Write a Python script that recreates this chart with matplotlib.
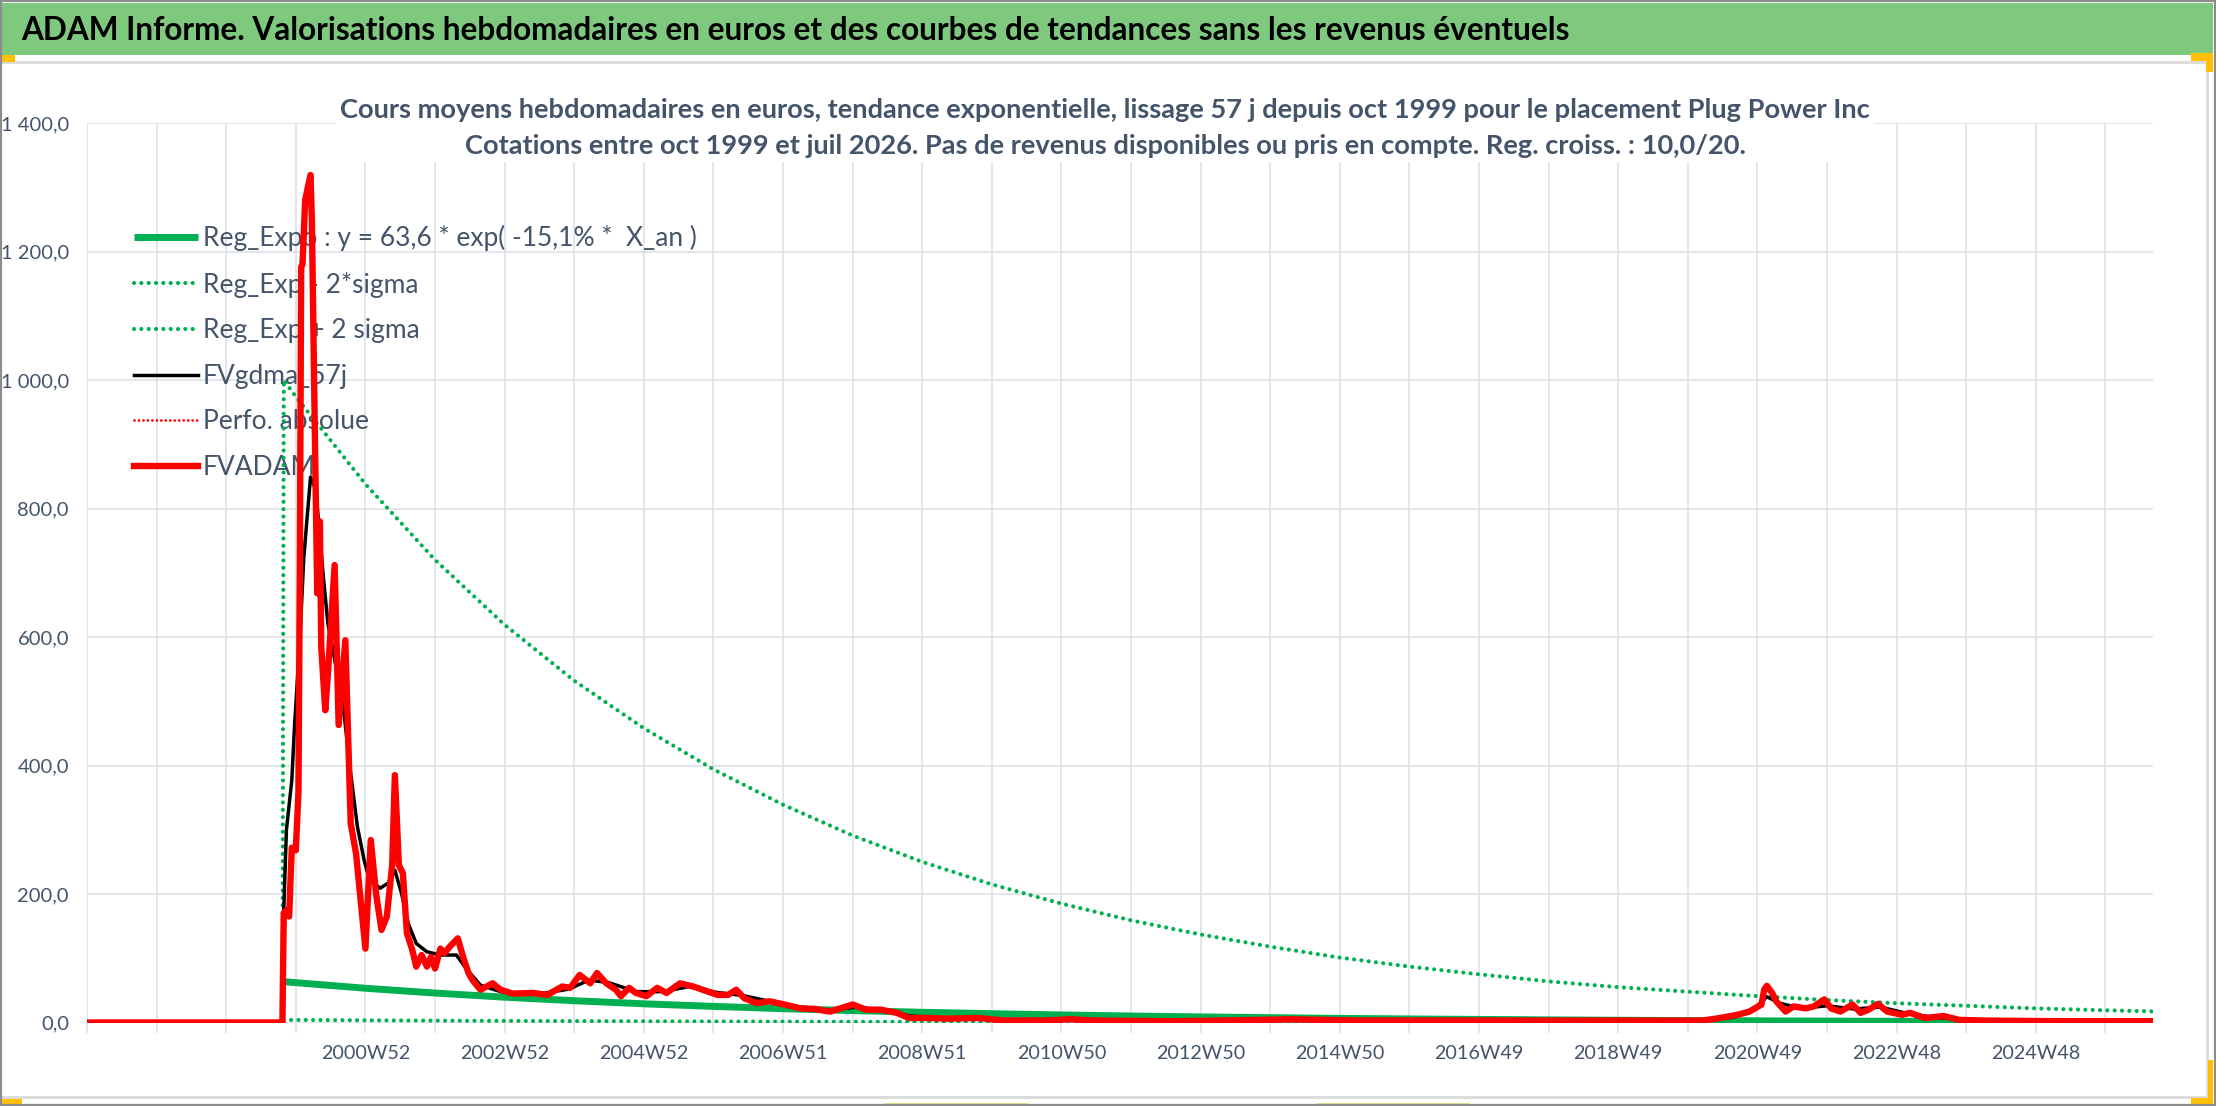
import matplotlib
matplotlib.use('Agg')
import matplotlib.pyplot as plt
from matplotlib.patches import Rectangle

W, H = 2216, 1106
DPI = 100

BANNER = ('ADAM Informe. Valorisations hebdomadaires en euros et des courbes '
          'de tendances sans les revenus éventuels')
SUBTITLE = ('Cours moyens hebdomadaires en euros, tendance exponentielle, lissage 57 j '
            'depuis oct 1999 pour le placement Plug Power Inc\n'
            'Cotations entre oct 1999 et juil 2026. Pas de revenus disponibles ou pris '
            'en compte. Reg. croiss. : 10,0/20.')

# x = week index on the category axis (week 0 = 1996W52, one grid step = 52 weeks)
grid_weeks = list(range(0, 1509, 52))
label_weeks = [208, 312, 416, 520, 624, 728, 832, 936, 1040, 1144, 1248, 1352, 1456]
label_texts = ['2000W52', '2002W52', '2004W52', '2006W51', '2008W51', '2010W50',
               '2012W50', '2014W50', '2016W49', '2018W49', '2020W49', '2022W48',
               '2024W48']
y_ticks = [0, 200, 400, 600, 800, 1000, 1200, 1400]
y_labels = ['0,0', '200,0', '400,0', '600,0', '800,0', '1 000,0', '1 200,0', '1 400,0']

# FVADAM (weekly price)
adam_weeks = [0, 146, 147, 149, 151, 153, 156, 158, 159, 160, 161, 163, 165, 167, 168,
              170, 172, 174, 175, 178, 180, 185, 188, 193, 197, 201, 208, 212, 216, 220,
              224, 228, 230, 233, 236, 239, 243, 246, 250, 254, 257, 260, 264, 267, 271,
              277, 281, 285, 288, 294, 303, 309, 318, 333, 344, 355, 361, 368, 376, 381,
              388, 395, 399, 405, 410, 418, 426, 433, 443, 453, 460, 471, 479, 485, 491,
              500, 510, 521, 533, 544, 555, 572, 582, 593, 605, 614, 628, 643, 666, 685,
              716, 734, 754, 811, 849, 899, 951, 1020, 1081, 1168, 1207, 1220, 1233, 1242,
              1251, 1253, 1255, 1259, 1262, 1269, 1275, 1284, 1290, 1298, 1303, 1310, 1319,
              1325, 1331, 1338, 1345, 1356, 1362, 1373, 1387, 1399, 1417, 1473, 1543]
adam_values = [0, 0, 170, 175, 165, 272, 268, 360, 700, 1176, 1180, 1280, 1300, 1319, 1250,
               950, 668, 780, 585, 486, 543, 712, 463, 595, 310, 263, 115, 284, 200, 144,
               165, 245, 385, 245, 232, 139, 113, 87, 105, 87, 102, 84, 115, 108, 118,
               131, 102, 77, 66, 51, 61, 51, 45, 46, 43, 56, 54, 74, 61, 77,
               61, 51, 41, 54, 46, 41, 54, 46, 61, 56, 51, 43, 43, 51, 38,
               30, 33, 28, 22, 21, 17, 28, 20, 20, 15, 7, 7, 6, 7, 3,
               3, 5, 3, 2, 3, 5, 3, 3, 3, 3, 3, 7, 12, 17,
               28, 51, 57, 46, 33, 17, 25, 22, 25, 36, 22, 17, 28,
               15, 20, 29, 17, 12, 15, 7, 10, 4, 3, 2, 2]

# FVgdma_57j (smoothed price)
gdma_weeks = [0, 146, 147, 149, 153, 155, 159, 162, 167, 170, 172, 177, 180, 187, 192,
              197, 202, 207, 211, 219, 225, 230, 235, 240, 246, 254, 264, 276, 284, 294,
              309, 318, 340, 360, 375, 390, 410, 430, 450, 470, 490, 510, 530, 555, 575,
              595, 615, 640, 680, 750, 850, 950, 1100, 1200, 1230, 1245, 1255, 1265, 1280,
              1300, 1320, 1340, 1360, 1380, 1400, 1450, 1543]
gdma_values = [0, 0, 175, 300, 377, 460, 595, 725, 849, 834, 803, 684, 621, 543, 481,
               388, 305, 253, 222, 209, 217, 237, 201, 154, 123, 110, 105, 105, 82, 58,
               48, 46, 45, 52, 66, 62, 48, 48, 56, 47, 42, 33, 25, 19, 24,
               19, 10, 7, 5, 4, 3, 3, 3, 3, 8, 20, 40, 30, 22,
               26, 21, 24, 14, 8, 5, 3, 2]

# exponential regression and its +/- 2 sigma band
trend_weeks = [147, 156, 208, 260, 312, 364, 416, 468, 520, 572, 624, 676, 728, 780, 832,
               884, 936, 988, 1040, 1092, 1144, 1196, 1248, 1300, 1352, 1404, 1456, 1508,
               1543]
reg_values = [63.6, 62.0, 53.3, 45.8, 39.4, 33.9, 29.1, 25.1, 21.5, 18.5, 15.9, 13.7,
              11.8, 10.1, 8.7, 7.5, 6.4, 5.5, 4.8, 4.1, 3.5, 3.0, 2.6, 2.2, 1.9, 1.6,
              1.4, 1.2, 1.1]
upper_values = [1000, 974, 838, 720, 619, 532, 458, 394, 339, 291, 250, 215, 185, 159,
                137, 118, 101, 87, 75, 64, 55, 48, 41, 35, 30, 26, 22, 19, 17.3]
lower_values = [4.05, 4.0, 3.4, 2.9, 2.5, 2.2, 1.9, 1.6, 1.4, 1.2, 1.0, 0.87, 0.75, 0.64,
                0.55, 0.48, 0.41, 0.35, 0.30, 0.26, 0.22, 0.19, 0.17, 0.14, 0.12, 0.10,
                0.09, 0.08, 0.07]

GREEN = '#00B050'
TEXT = '#44546A'
GRID = '#DADEE4'
DOTS = dict(lw=3.0, dashes=(0.01, 1.75), dash_capstyle='round')

plt.rcParams['font.family'] = ['Lato', 'DejaVu Sans']


def px_rect(x, y, w, h, **kw):
    # rectangle in image pixels, origin top-left
    return Rectangle((x / W, 1 - (y + h) / H), w / W, h / H,
                     transform=fig.transFigure, **kw)


fig = plt.figure(figsize=(W / DPI, H / DPI), dpi=DPI, facecolor='white')

# frame, banner and the small sizing handles
fig.add_artist(px_rect(-5, 62, 2212, 1035, facecolor='none', edgecolor='#DCDCDC', lw=2.2))
fig.add_artist(px_rect(0, 3, 2213, 52, facecolor='#7FC97F', edgecolor='none'))
for x, y, w, h, c in [(0, 55, 15, 7, '#FFC000'), (2191, 53, 22, 8, '#FFC000'),
                      (2206, 53, 7, 19, '#FFC000'), (0, 1099, 22, 7, '#FFC000'),
                      (2191, 1098, 22, 8, '#FFC000'), (2208, 1060, 5, 46, '#FFC000'),
                      (884, 1103, 144, 3, '#E8E48A'), (1317, 1103, 153, 3, '#E8E48A')]:
    fig.add_artist(px_rect(x, y, w, h, facecolor=c, edgecolor='none'))
fig.add_artist(px_rect(1, 1, W - 2, H - 2, facecolor='none', edgecolor='#8C8C8C', lw=1.6))

fig.text(21 / W, 1 - 30 / H, BANNER, fontsize=22.7, fontweight='bold', color='black',
         ha='left', va='center')

ax = fig.add_axes([87 / W, 1 - 1022.5 / H, (2153 - 87) / W, (1022.5 - 123) / H])

ax.plot(trend_weeks, reg_values, color=GREEN, lw=5, solid_capstyle='butt', zorder=3,
        label='Reg_Expo : y = 63,6 * exp( -15,1% *  X_an )')
ax.plot(trend_weeks, lower_values, color=GREEN, zorder=3, label='Reg_Exp - 2*sigma',
        **DOTS)
ax.plot([146] + trend_weeks, [0] + upper_values, color=GREEN, zorder=3,
        label='Reg_Exp + 2 sigma', **DOTS)
ax.plot(gdma_weeks, gdma_values, color='black', lw=2.5, zorder=4, label='FVgdma_57j')
ax.plot([], [], color='#FF0000', lw=2.0, dashes=(0.01, 1.6), dash_capstyle='round',
        label='Perfo. absolue')
ax.plot(adam_weeks, adam_values, color='#FF0000', lw=4.6, solid_joinstyle='round',
        zorder=5, label='FVADAM')

ax.set_xlim(0, 1543.5)
ax.set_ylim(0, 1400)
ax.set_xticks(grid_weeks)
ax.set_xticklabels([label_texts[label_weeks.index(w)] if w in label_weeks else ''
                    for w in grid_weeks])
ax.set_yticks(y_ticks)
ax.set_yticklabels(y_labels)
ax.tick_params(axis='x', length=7, width=1.1, color=GRID, pad=9, labelsize=14.2,
               labelcolor=TEXT)
ax.tick_params(axis='y', length=0, pad=13, labelsize=14.5, labelcolor=TEXT)
ax.grid(True, color=GRID, lw=1.1)
ax.set_axisbelow(True)
for s in ax.spines.values():
    s.set_visible(False)

leg = ax.legend(loc='upper left', bbox_to_anchor=(134 / W, 1 - 225 / H),
                bbox_transform=fig.transFigure, frameon=False, borderpad=0,
                borderaxespad=0, fontsize=19, handlelength=2.42, handletextpad=0.19,
                labelspacing=0.78, labelcolor=TEXT)
leg.set_zorder(2.5)

fig.text(1105 / W, 1 - 128 / H, SUBTITLE, fontsize=19.6, fontweight='bold', color=TEXT,
         ha='center', va='center', multialignment='center', linespacing=1.55,
         bbox=dict(boxstyle='square,pad=0.15', facecolor='white', edgecolor='none'),
         zorder=6)

fig.savefig('out.png', dpi=DPI, facecolor='white')
